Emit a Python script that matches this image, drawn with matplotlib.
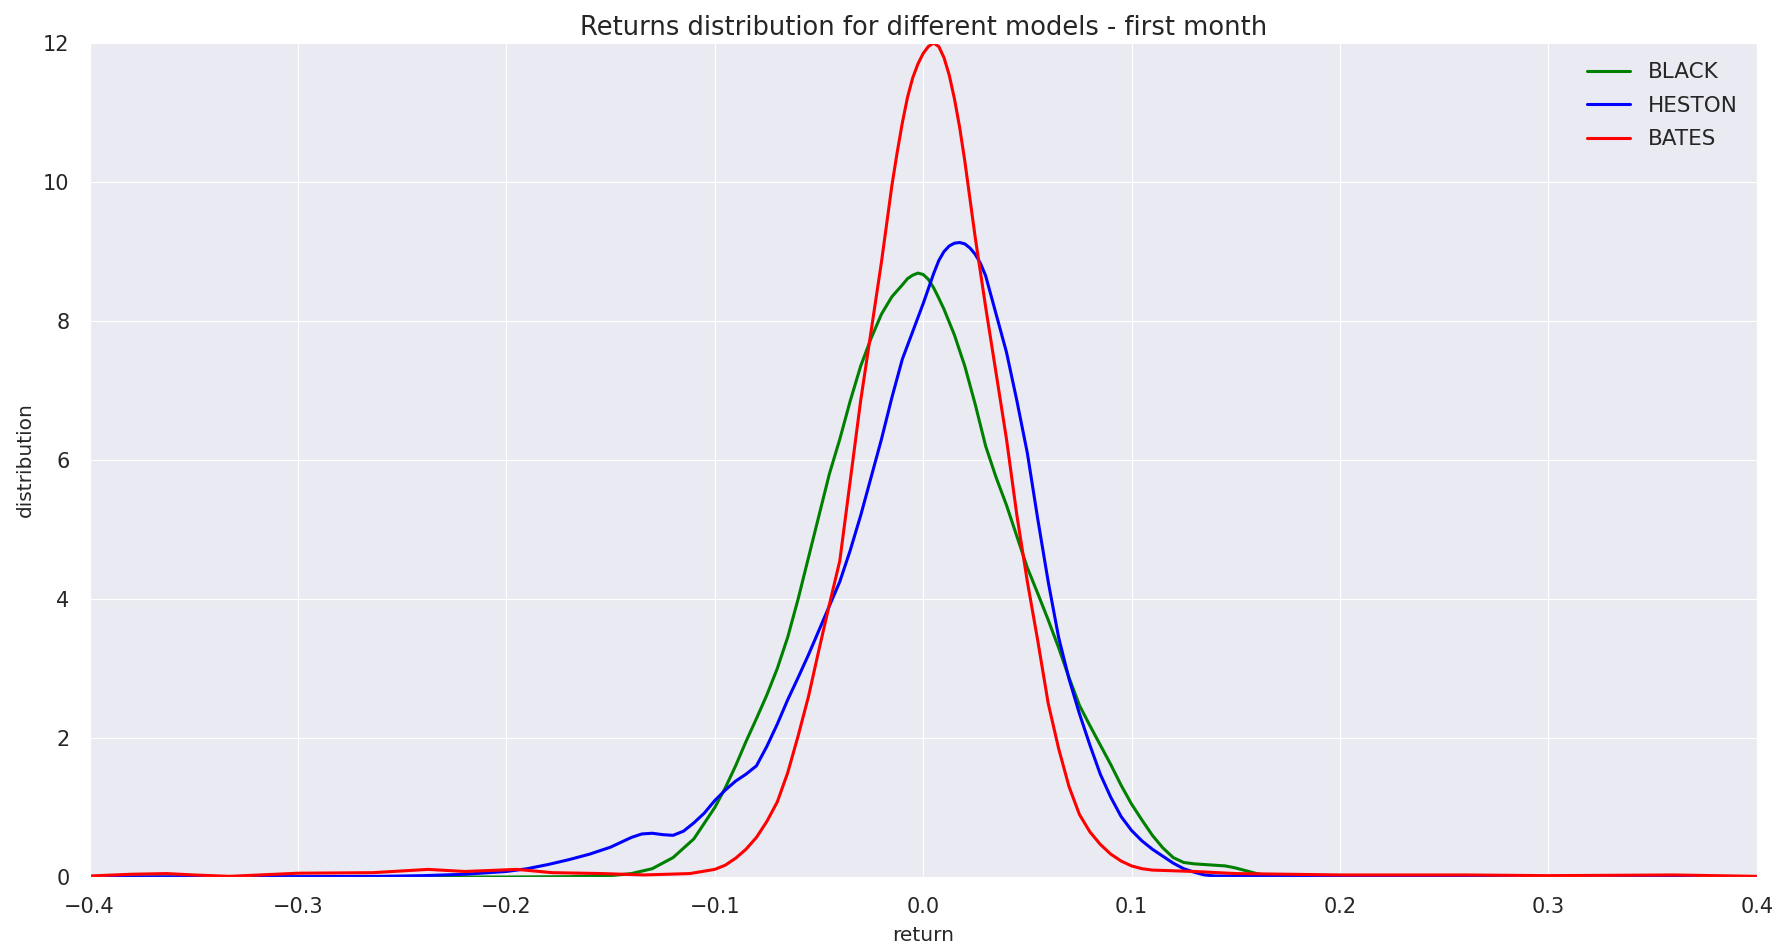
import numpy as np
import matplotlib
matplotlib.use('Agg')
import matplotlib.pyplot as plt
import seaborn as sns

# Đường mật độ (return, distribution)
black_x = [-0.40, -0.20, -0.17, -0.15, -0.14, -0.13, -0.12, -0.11, -0.10, -0.095, -0.09, -0.085,
           -0.08, -0.075, -0.07, -0.065, -0.06, -0.055, -0.05, -0.045, -0.04, -0.035, -0.03, -0.025,
           -0.02, -0.015, -0.01, -0.0075, -0.005, -0.0025, 0.0, 0.0025, 0.005, 0.0075, 0.01, 0.015,
           0.02, 0.025, 0.03, 0.035, 0.04, 0.045, 0.05, 0.055, 0.06, 0.065, 0.07, 0.075,
           0.08, 0.085, 0.09, 0.095, 0.10, 0.105, 0.11, 0.115, 0.12, 0.125, 0.13, 0.135,
           0.14, 0.145, 0.15, 0.155, 0.16, 0.165, 0.17, 0.18, 0.40]
black_y = [0.0, 0.0, 0.005, 0.02, 0.05, 0.12, 0.28, 0.55, 1.0, 1.28, 1.6, 1.95,
           2.28, 2.62, 3.0, 3.45, 4.0, 4.6, 5.2, 5.8, 6.3, 6.85, 7.35, 7.75,
           8.1, 8.35, 8.52, 8.61, 8.66, 8.69, 8.67, 8.6, 8.48, 8.33, 8.17, 7.8,
           7.35, 6.8, 6.2, 5.75, 5.35, 4.9, 4.45, 4.08, 3.7, 3.3, 2.87, 2.47,
           2.18, 1.9, 1.62, 1.32, 1.05, 0.82, 0.6, 0.42, 0.28, 0.21, 0.19, 0.18,
           0.17, 0.16, 0.13, 0.09, 0.05, 0.02, 0.01, 0.0, 0.0]

heston_x = [-0.40, -0.30, -0.26, -0.24, -0.22, -0.20, -0.19, -0.18, -0.17, -0.16, -0.15, -0.145,
            -0.14, -0.135, -0.13, -0.125, -0.12, -0.115, -0.11, -0.105, -0.10, -0.095, -0.09, -0.085,
            -0.08, -0.075, -0.07, -0.065, -0.06, -0.055, -0.05, -0.045, -0.04, -0.035, -0.03, -0.025,
            -0.02, -0.015, -0.01, -0.005, 0.0, 0.005, 0.0075, 0.01, 0.0125, 0.015, 0.0175, 0.02,
            0.0225, 0.025, 0.0275, 0.03, 0.035, 0.04, 0.045, 0.05, 0.055, 0.06, 0.065, 0.07,
            0.075, 0.08, 0.085, 0.09, 0.095, 0.10, 0.105, 0.11, 0.115, 0.12, 0.125, 0.13,
            0.135, 0.14, 0.16, 0.20, 0.30, 0.40]
heston_y = [0.0, 0.005, 0.01, 0.02, 0.04, 0.08, 0.12, 0.18, 0.25, 0.33, 0.43, 0.5,
            0.57, 0.62, 0.63, 0.61, 0.6, 0.66, 0.78, 0.92, 1.1, 1.25, 1.38, 1.48,
            1.6, 1.88, 2.2, 2.55, 2.87, 3.2, 3.55, 3.9, 4.25, 4.7, 5.2, 5.75,
            6.3, 6.9, 7.45, 7.85, 8.25, 8.68, 8.87, 9.0, 9.08, 9.12, 9.13, 9.11,
            9.05, 8.96, 8.83, 8.65, 8.1, 7.55, 6.85, 6.1, 5.15, 4.25, 3.45, 2.85,
            2.35, 1.9, 1.48, 1.15, 0.87, 0.67, 0.52, 0.4, 0.3, 0.2, 0.12, 0.07,
            0.03, 0.015, 0.01, 0.01, 0.003, 0.0]

bates_x = [-0.40, -0.38, -0.363, -0.35, -0.333, -0.30, -0.264, -0.2375, -0.22, -0.195, -0.178, -0.154,
           -0.134, -0.112, -0.10, -0.095, -0.09, -0.085, -0.08, -0.075, -0.07, -0.065, -0.06, -0.055,
           -0.05, -0.045, -0.04, -0.035, -0.03, -0.025, -0.02, -0.015, -0.0125, -0.01, -0.0075, -0.005,
           -0.0025, 0.0, 0.0025, 0.005, 0.0075, 0.01, 0.0125, 0.015, 0.0175, 0.02, 0.025, 0.03,
           0.035, 0.04, 0.045, 0.05, 0.055, 0.06, 0.065, 0.07, 0.075, 0.08, 0.085, 0.09,
           0.095, 0.10, 0.105, 0.11, 0.12, 0.13, 0.15, 0.20, 0.26, 0.30, 0.36, 0.40]
bates_y = [0.015, 0.04, 0.05, 0.03, 0.01, 0.055, 0.063, 0.11, 0.08, 0.11, 0.063, 0.05,
           0.03, 0.05, 0.11, 0.17, 0.27, 0.4, 0.57, 0.8, 1.08, 1.5, 2.03, 2.6,
           3.27, 3.92, 4.55, 5.7, 6.85, 7.85, 8.85, 9.95, 10.42, 10.85, 11.22, 11.5,
           11.7, 11.85, 11.95, 12.0, 11.95, 11.79, 11.54, 11.2, 10.79, 10.3, 9.2, 8.2,
           7.25, 6.3, 5.2, 4.25, 3.4, 2.5, 1.85, 1.3, 0.9, 0.65, 0.47, 0.33,
           0.23, 0.16, 0.12, 0.1, 0.09, 0.08, 0.05, 0.03, 0.03, 0.02, 0.03, 0.01]

sns.set_style('darkgrid')
plt.rcParams['font.family'] = ['DejaVu Sans']

fig = plt.figure(figsize=(17.77, 9.46), dpi=100)
ax = fig.add_axes([0.0504, 0.0729, 0.9382, 0.8816])

ax.plot(black_x, black_y, color='green', linewidth=2.2, label='BLACK')
ax.plot(heston_x, heston_y, color='blue', linewidth=2.2, label='HESTON')
ax.plot(bates_x, bates_y, color='red', linewidth=2.2, label='BATES')

ax.set_xlim(-0.4, 0.4)
ax.set_ylim(0, 12)
ax.set_xticks(np.arange(-0.4, 0.41, 0.1))
ax.tick_params(labelsize=15, colors='.15', pad=11)
ax.set_xlabel('return', fontsize=14.5, color='.15', labelpad=6)
ax.set_ylabel('distribution', fontsize=14.5, color='.15', labelpad=6)
ax.set_title('Returns distribution for different models - first month', fontsize=18.5, color='.15')
ax.legend(loc='upper right', fontsize=15.5, frameon=False, labelspacing=0.62)

plt.savefig('out.png', dpi=100)
